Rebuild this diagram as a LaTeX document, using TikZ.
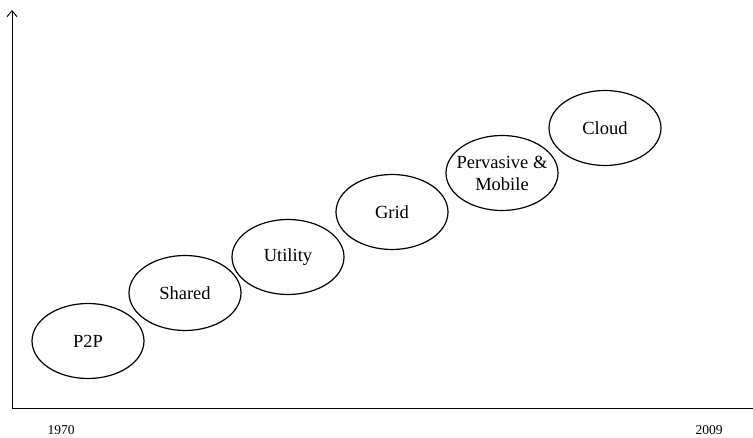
\documentclass[tikz,border=0pt]{standalone}
\usepackage{fontspec}
\setmainfont{Liberation Serif}
\usetikzlibrary{arrows.meta,shapes.geometric}
\begin{document}
\begin{tikzpicture}[x=1pt,y=-1pt,
  era/.style={draw, line width=1.2pt, ellipse, minimum width=112pt, minimum height=75pt,
    inner sep=0pt, align=center, font=\fontsize{18.5}{22}\selectfont},
  year/.style={font=\fontsize{13.5}{15}\selectfont},
  axis/.style={line width=0.9pt}]
\useasboundingbox (0,0) rectangle (753,438);
% axes
\coordinate (origin) at (12,408);
\coordinate (ytop) at (12,10);
\coordinate (xend) at (753,408);
\draw[axis, -{Straight Barb[length=6pt,width=10pt]}] (origin) -- (ytop);
\draw[axis] (origin) -- (xend);
% years
\node[year] (y1970) at (61,430) {1970};
\node[year] (y2009) at (709,430) {2009};
% computing eras
\node[era] (p2p) at (88,341) {P2P};
\node[era] (shared) at (185,293) {Shared};
\node[era] (utility) at (288,257) {Utility};
\node[era] (grid) at (392,212) {Grid};
\node[era, inner xsep=-6pt] (pervasive) at (502,173) {Pervasive \&\\Mobile};
\node[era] (cloud) at (605,128) {Cloud};
\end{tikzpicture}
\end{document}
